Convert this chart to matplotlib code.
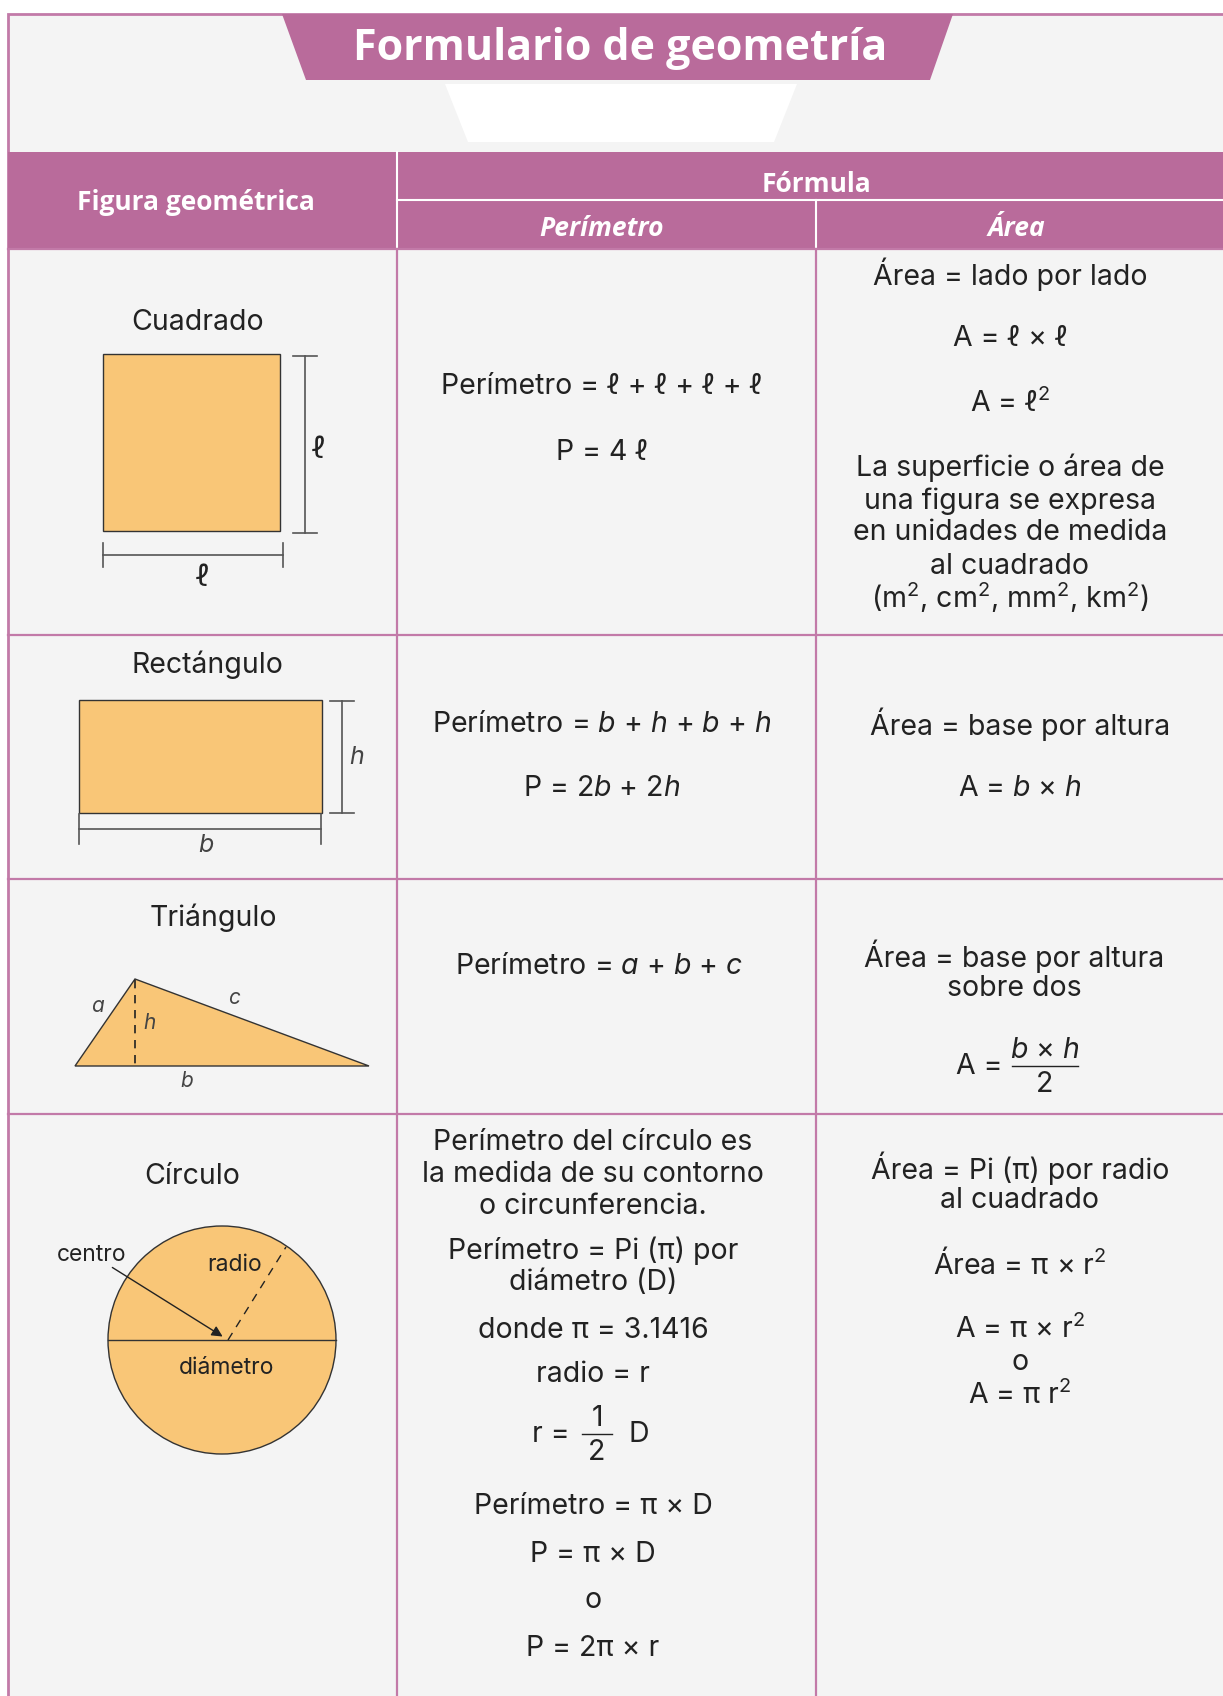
import matplotlib.pyplot as plt
from matplotlib.patches import Polygon, Rectangle, Circle

plt.rcParams['font.family'] = ['Inter', 'DejaVu Sans']
plt.rcParams['mathtext.fontset'] = 'custom'
plt.rcParams['mathtext.rm'] = 'Inter'
plt.rcParams['mathtext.it'] = 'Inter:italic'

SQ = '${}^{2}$'

# Textos del formulario
titulo = 'Formulario de geometría'
encabezados = ['Figura geométrica', 'Fórmula', 'Perímetro', 'Área']
figuras = ['Cuadrado', 'Rectángulo', 'Triángulo', 'Círculo']

perim_cuadrado = ['Perímetro = ℓ + ℓ + ℓ + ℓ', 'P = 4 ℓ']
area_cuadrado = ['Área = lado por lado', 'A = ℓ × ℓ', 'A = ℓ' + SQ,
                 'La superficie o área de', 'una figura se expresa',
                 'en unidades de medida', 'al cuadrado',
                 f'(m{SQ}, cm{SQ}, mm{SQ}, km{SQ})']
perim_rect = ['Perímetro = $b$ + $h$ + $b$ + $h$', 'P = 2$b$ + 2$h$']
area_rect = ['Área = base por altura', 'A = $b$ × $h$']
perim_tri = ['Perímetro = $a$ + $b$ + $c$']
area_tri = ['Área = base por altura', 'sobre dos']
perim_circ = ['Perímetro del círculo es', 'la medida de su contorno',
              'o circunferencia.', 'Perímetro = Pi (π) por', 'diámetro (D)',
              'donde π = 3.1416', 'radio = r', 'Perímetro = π × D',
              'P = π × D', 'o', 'P = 2π × r']
area_circ = ['Área = Pi (π) por radio', 'al cuadrado', 'Área = π × r' + SQ,
             'A = π × r' + SQ, 'o', 'A = π r' + SQ]

# Posiciones verticales (px) de cada linea
y_perim_cuadrado = [387, 452]
y_area_cuadrado = [274, 338, 403, 468, 501, 533, 566, 598]
y_perim_rect = [724, 789]
y_area_rect = [724, 789]
y_perim_tri = [966]
y_area_tri = [956, 988]
y_perim_circ = [1142, 1174, 1207, 1251, 1283, 1330, 1375, 1506, 1554, 1601, 1649]
y_area_circ = [1168, 1200, 1264, 1329, 1362, 1395]

W, H = 1223, 1696
PINK = '#b96b9b'
LINE = '#c27aa8'
BG = '#f4f4f4'
ORANGE = '#f9c677'
TXT = '#222222'
GRAY = '#555555'
FS = 20.5
FS_SMALL = 16.5

fig = plt.figure(figsize=(W / 100, H / 100), dpi=100)
ax = fig.add_axes([0, 0, 1, 1])
ax.set_xlim(0, W)
ax.set_ylim(H, 0)
ax.axis('off')

# Fondo y marco
ax.add_patch(Rectangle((8, 14), W + 10, H, facecolor=BG, edgecolor=LINE, lw=2))

# Banda del titulo
ax.add_patch(Polygon([(282, 14), (953, 14), (930, 80), (306, 80)], closed=True,
                     facecolor=PINK, edgecolor='none'))
ax.add_patch(Polygon([(445, 84), (797, 84), (774, 142), (468, 142)], closed=True,
                     facecolor='white', edgecolor='none'))
ax.text(620, 49, titulo, ha='center', va='center', color='white', fontsize=31,
        fontweight='bold', family=['Open Sans', 'DejaVu Sans'])

# Encabezado de la tabla
ax.add_patch(Rectangle((8, 152), W, 97, facecolor=PINK, edgecolor='none'))
ax.plot([397, 397], [152, 249], color='white', lw=1.5)
ax.plot([397, W], [200, 200], color='white', lw=1.5)
ax.plot([816, 816], [200, 249], color='white', lw=1.5)
hdr = dict(ha='center', va='center', color='white', fontweight='bold', fontsize=19,
           family=['Open Sans', 'DejaVu Sans'])
ax.text(196, 203, encabezados[0], **hdr)
ax.text(816, 184, encabezados[1], **hdr)
ax.text(602, 228, encabezados[2], style='italic', **hdr)
ax.text(1016, 228, encabezados[3], style='italic', **hdr)

# Lineas de la cuadricula
for y in [249, 635, 879, 1114]:
    ax.plot([8, W], [y, y], color=LINE, lw=1.6)
for x in [397, 816]:
    ax.plot([x, x], [249, H], color=LINE, lw=1.6)


def lines(x, ys, texts, fs=FS):
    for y, s in zip(ys, texts):
        ax.text(x, y, s, ha='center', va='center', color=TXT, fontsize=fs)


def fraction(x, y, num, den, half=30, fs=FS):
    ax.plot([x - half, x + half], [y, y], color=TXT, lw=1)
    ax.text(x, y - 16, num, ha='center', va='center', color=TXT, fontsize=fs)
    ax.text(x, y + 19, den, ha='center', va='center', color=TXT, fontsize=fs)


def dim(ax, x0, y0, x1, y1, tick):
    ax.plot([x0, x1], [y0, y1], color=GRAY, lw=1.2)
    if x0 == x1:
        ax.plot([x0 - tick, x0 + tick], [y0, y0], color=GRAY, lw=1.2)
        ax.plot([x1 - tick, x1 + tick], [y1, y1], color=GRAY, lw=1.2)
    else:
        ax.plot([x0, x0], [y0 - tick, y0 + tick], color=GRAY, lw=1.2)
        ax.plot([x1, x1], [y1 - tick, y1 + tick], color=GRAY, lw=1.2)


# Fila 1: cuadrado
ax.text(198, 322, figuras[0], ha='center', va='center', color=TXT, fontsize=FS)
ax.add_patch(Rectangle((103, 354), 177, 177, facecolor=ORANGE, edgecolor='#333333', lw=1))
dim(ax, 305, 356, 305, 533, 12)
dim(ax, 103, 555, 283, 555, 12)
ax.text(319, 450, 'ℓ', ha='center', va='center', color=TXT, fontsize=22)
ax.text(203, 578, 'ℓ', ha='center', va='center', color=TXT, fontsize=22)
lines(602, y_perim_cuadrado, perim_cuadrado)
lines(1010, y_area_cuadrado, area_cuadrado)

# Fila 2: rectangulo
ax.text(207, 665, figuras[1], ha='center', va='center', color=TXT, fontsize=FS)
ax.add_patch(Rectangle((79, 700), 243, 113, facecolor=ORANGE, edgecolor='#333333', lw=1))
dim(ax, 342, 701, 342, 813, 12)
dim(ax, 79, 829, 321, 829, 15)
ax.text(357, 758, '$h$', ha='center', va='center', color='#444444', fontsize=18)
ax.text(206, 846, '$b$', ha='center', va='center', color='#444444', fontsize=18)
lines(602, y_perim_rect, perim_rect)
lines(1020, y_area_rect, area_rect)

# Fila 3: triangulo
ax.text(213, 918, figuras[2], ha='center', va='center', color=TXT, fontsize=FS)
ax.add_patch(Polygon([(75, 1066), (135, 979), (369, 1066)], closed=True,
                     facecolor=ORANGE, edgecolor='#333333', lw=1))
ax.plot([135, 135], [980, 1066], color='#222222', lw=1.2, ls=(0, (5, 4)))
for s, x, y in [('$a$', 98, 1006), ('$h$', 150, 1023), ('$c$', 235, 998), ('$b$', 187, 1081)]:
    ax.text(x, y, s, ha='center', va='center', color='#444444', fontsize=15)
lines(599, y_perim_tri, perim_tri)
lines(1014, y_area_tri, area_tri)
ax.text(979, 1067, 'A =', ha='center', va='center', color=TXT, fontsize=FS)
fraction(1045, 1066, '$b$ × $h$', '2', half=33)

# Fila 4: circulo
ax.text(192, 1176, figuras[3], ha='center', va='center', color=TXT, fontsize=FS)
ax.add_patch(Circle((222, 1340), 114, facecolor=ORANGE, edgecolor='#333333', lw=1))
ax.plot([108, 336], [1340, 1340], color='#333333', lw=1)
ax.plot([228, 286], [1340, 1247], color='#222222', lw=1, ls=(0, (6, 5)))
ax.annotate('', xy=(225, 1338), xytext=(110, 1266),
            arrowprops=dict(arrowstyle='-|>', color='#222222', lw=1, mutation_scale=16))
for s, x, y in [('centro', 92, 1255), ('radio', 235, 1265), ('diámetro', 227, 1368)]:
    ax.text(x, y, s, ha='center', va='center', color=TXT, fontsize=FS_SMALL)
lines(593, y_perim_circ, perim_circ)
ax.text(551, 1435, 'r =', ha='center', va='center', color=TXT, fontsize=FS)
fraction(597, 1434, '1', '2', half=15)
ax.text(639, 1435, 'D', ha='center', va='center', color=TXT, fontsize=FS)
lines(1020, y_area_circ, area_circ)

fig.savefig('out.png', dpi=100, facecolor='white')
